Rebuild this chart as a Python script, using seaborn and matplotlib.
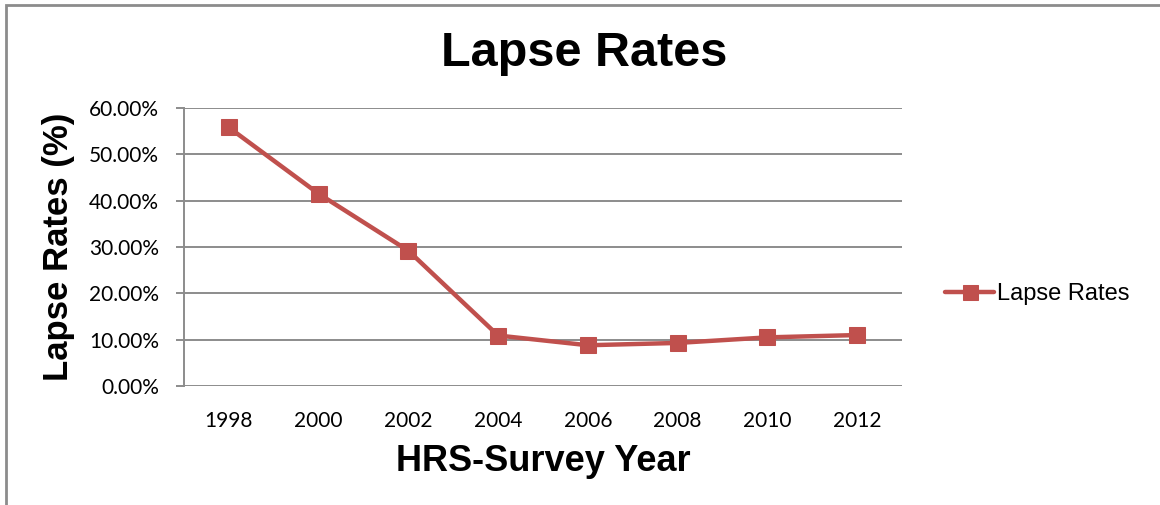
import numpy as np
import pandas as pd
import matplotlib
matplotlib.use("Agg")
import matplotlib.pyplot as plt
import seaborn as sns
from matplotlib.patches import Rectangle
from matplotlib.ticker import PercentFormatter

# ===================== DATA =====================
years = ["1998", "2000", "2002", "2004", "2006", "2008", "2010", "2012"]
lapse_rates = [55.8, 41.5, 29.2, 10.9, 8.8, 9.3, 10.5, 11.0]

df = pd.DataFrame({"Year": years, "Lapse Rates": lapse_rates})

# ===================== STYLE =====================
sns.set_style("white")
plt.rcParams["font.family"] = ["Liberation Sans", "DejaVu Sans"]
plt.rcParams["text.color"] = "black"
plt.rcParams["axes.labelcolor"] = "black"
plt.rcParams["xtick.color"] = "black"
plt.rcParams["ytick.color"] = "black"

red = "#C0504D"
grid_gray = "#8C8C8C"

fig = plt.figure(figsize=(11.6, 5.05), dpi=100)
ax = fig.add_axes([0.1586, 0.2356, 0.619, 0.5505])

sns.lineplot(data=df, x="Year", y="Lapse Rates", sort=False, ax=ax,
             color=red, linewidth=3.2, marker="s", markersize=12,
             markeredgecolor=red, label="Lapse Rates")

ax.set_xlim(-0.5, len(years) - 0.5)
ax.set_ylim(0, 60)
ax.set_yticks(np.arange(0, 61, 10))
ax.yaxis.set_major_formatter(PercentFormatter(decimals=2))
ax.grid(axis="y", color=grid_gray, linewidth=1.4)
ax.set_axisbelow(True)

for side in ["top", "right", "bottom"]:
    ax.spines[side].set_visible(False)
ax.spines["left"].set_color(grid_gray)
ax.spines["left"].set_linewidth(1.4)

ax.tick_params(axis="y", which="major", direction="out", length=6, width=1.4,
               color=grid_gray, labelcolor="black", pad=12, left=True)
ax.tick_params(axis="x", length=0, pad=18, labelcolor="black")
for lab in ax.get_xticklabels() + ax.get_yticklabels():
    lab.set_fontfamily(["Lato", "DejaVu Sans"])
    lab.set_fontsize(15)

ax.set_xlabel("HRS-Survey Year", fontsize=26, fontweight="bold", labelpad=9)
ax.set_ylabel("Lapse Rates (%)", fontsize=25, fontweight="bold", labelpad=10)
fig.text(0.504, 0.895, "Lapse Rates", ha="center", va="center",
         fontsize=35, fontweight="bold")

leg = ax.legend(loc="center left", bbox_to_anchor=(1.03, 0.33), frameon=False,
                fontsize=17, handlelength=2.1, handletextpad=0.1,
                markerscale=0.9)
for t in leg.get_texts():
    t.set_color("black")

# outer chart border (only left and top visible, as in the crop)
fig.patches.append(Rectangle((6 / 1160, -0.1), 1.2, 1 - 5 / 505 + 0.1,
                             transform=fig.transFigure, fill=False,
                             edgecolor=grid_gray, linewidth=2))

fig.savefig("out.png", dpi=100)
